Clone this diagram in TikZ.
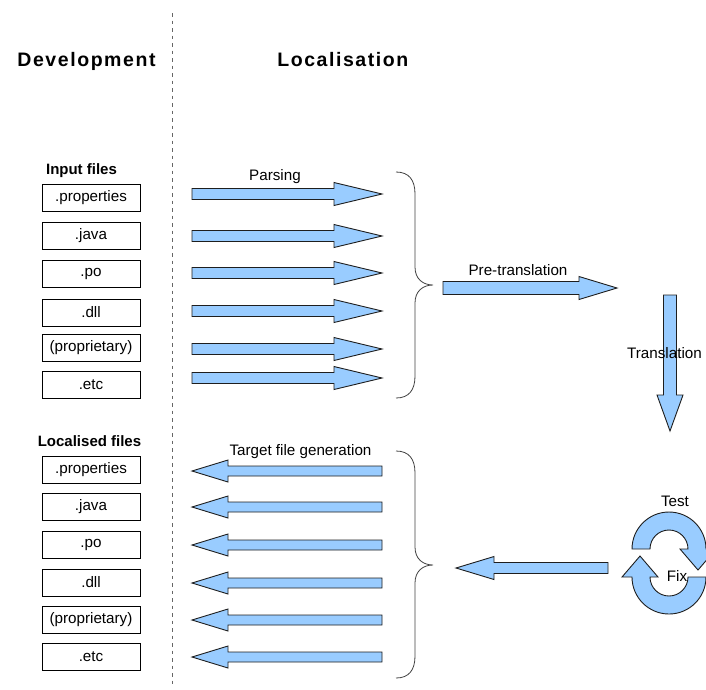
\documentclass[tikz,border=0pt]{standalone}
\usepackage{fontspec}
\setmainfont{Liberation Sans}
\definecolor{arrfill}{RGB}{153,204,255}
\definecolor{edge}{RGB}{30,30,30}
\newcommand\hblk[6]{% tail x, head base x, tip x, centre y, shaft half, head half
  \draw[blk] (#1,#4-#5) -- (#2,#4-#5) -- (#2,#4-#6) -- (#3,#4) -- (#2,#4+#6) -- (#2,#4+#5) -- (#1,#4+#5) -- cycle;}
\begin{document}
\begin{tikzpicture}[x=1pt,y=-1pt,
  blk/.style={draw=edge,fill=arrfill,line width=0.9pt,line join=miter},
  fbox/.style={draw=black,line width=0.6pt,minimum width=98pt,minimum height=27pt,inner sep=0pt,font=\fontsize{15.2}{18}\selectfont},
  lbl/.style={inner sep=0pt,anchor=base,font=\fontsize{15.2}{18}\selectfont},
  sub/.style={inner sep=0pt,anchor=base,font=\fontsize{15}{18}\selectfont\bfseries},
  head/.style={inner sep=0pt,anchor=base,font=\fontsize{19.5}{22}\selectfont\bfseries\addfontfeatures{LetterSpace=8}},
  brc/.style={draw=black!75,line width=0.8pt}]
\useasboundingbox (0,0) rectangle (706,689);

% divider
\draw[black!60,line width=1.3pt,dash pattern=on 3.5pt off 4pt] (172.7,13) -- (172.7,685);

% headers
\node[head] (hdev) at (86.5,66.5) {Development};
\node[head] (hloc) at (342.8,66.5) {Localisation};

% input files
\node[sub] (hin) at (81.5,174) {Input files};
\node[fbox] (i1) at (91,197.5) {.properties};
\node[fbox] (i2) at (91,235.5) {.java};
\node[fbox] (i3) at (91,274) {.po};
\node[fbox] (i4) at (91,312.5) {.dll};
\node[fbox] (i5) at (91,348) {(proprietary)};
\node[fbox] (i6) at (91,385) {.etc};

% parsing arrows
\hblk{192}{334}{382}{194}{5.5}{11.5}
\hblk{192}{334}{382}{236}{5.5}{11.5}
\hblk{192}{334}{382}{273}{5.5}{11.5}
\hblk{192}{334}{382}{311}{5.5}{11.5}
\hblk{192}{334}{382}{349}{5.5}{11.5}
\hblk{192}{334}{382}{378}{5.5}{11.5}
\node[lbl] (parse) at (275,180) {Parsing};

% upper brace
\draw[brc] (396,172) .. controls (409,172) and (415,180) .. (415,194)
  -- (415,267) .. controls (415,279) and (423,285) .. (433,285)
  .. controls (423,285) and (415,291) .. (415,303)
  -- (415,376) .. controls (415,390) and (409,398) .. (396,398);

% pre-translation
\hblk{443}{579}{617}{288}{6.5}{11.5}
\node[lbl] (pre) at (518,275) {Pre-translation};

% translation (vertical)
\draw[blk] (663.5,295) -- (676.5,295) -- (676.5,395) -- (683,395) -- (670,431)
  -- (657,395) -- (663.5,395) -- cycle;
\node[lbl,anchor=base west] (trans) at (627,358) {Translation};

% localised files
\node[sub] (hout) at (89.5,446) {Localised files};
\node[fbox] (o1) at (91,469.5) {.properties};
\node[fbox] (o2) at (91,507) {.java};
\node[fbox] (o3) at (91,544.5) {.po};
\node[fbox] (o4) at (91,582.5) {.dll};
\node[fbox] (o5) at (91,620) {(proprietary)};
\node[fbox] (o6) at (91,657) {.etc};

% target generation arrows
\hblk{382}{228}{192}{471}{5}{11}
\hblk{382}{228}{192}{507}{5}{11}
\hblk{382}{228}{192}{545}{5}{11}
\hblk{382}{228}{192}{583}{5}{11}
\hblk{382}{228}{192}{620}{5}{11}
\hblk{382}{228}{192}{657}{5}{11}
\node[lbl] (tgt) at (300.5,455) {Target file generation};

% lower brace
\draw[brc] (396,451) .. controls (409,451) and (415,459) .. (415,473)
  -- (415,547) .. controls (415,559) and (423,565) .. (433,565)
  .. controls (423,565) and (415,571) .. (415,583)
  -- (415,656) .. controls (415,670) and (409,678) .. (396,678);

% return arrow
\hblk{608}{494}{456}{568}{5.5}{11.5}

% test / fix cycle
\draw[blk] (650,549) -- (632,549) arc[start angle=180,end angle=360,radius=37]
  -- (716,549) -- (698,570) -- (680,549) -- (688,549)
  arc[start angle=360,end angle=180,radius=19] -- cycle;
\draw[blk] (688,577) -- (706,577) arc[start angle=0,end angle=180,radius=37]
  -- (622,577) -- (640,556) -- (658,577) -- (650,577)
  arc[start angle=180,end angle=0,radius=19] -- cycle;
\node[lbl] (test) at (675,506) {Test};
\node[lbl] (fix) at (677,581) {Fix};
\end{tikzpicture}
\end{document}
